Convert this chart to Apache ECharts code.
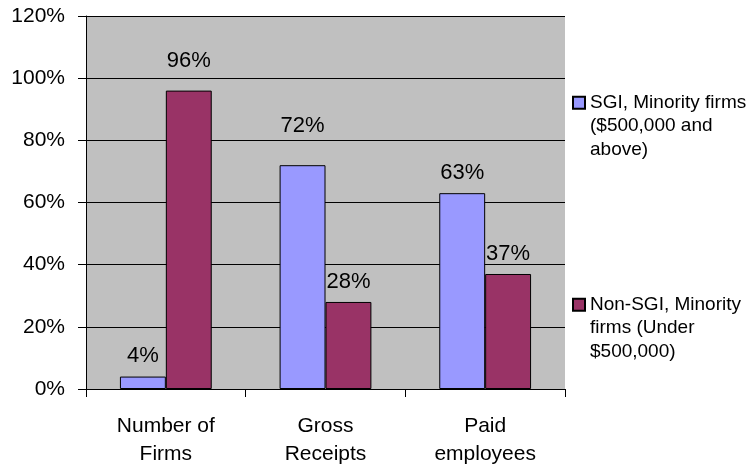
<!DOCTYPE html>
<html>
<head>
<meta charset="utf-8">
<script src="https://cdn.jsdelivr.net/npm/echarts@6/dist/echarts.min.js"></script>
<style>
  html, body { margin: 0; padding: 0; background: #fff; }
  #chart { width: 749px; height: 465px; }
</style>
</head>
<body>
<div id="chart"></div>
<script>
const categories = ['Number of\nFirms', 'Gross\nReceipts', 'Paid\nemployees'];
const seriesNames = ['SGI, Minority firms\n($500,000 and\nabove)', 'Non-SGI, Minority\nfirms (Under\n$500,000)'];
const sgiValues = [4, 72, 63];
const nonSgiValues = [96, 28, 37];
const yTicks = { min: 0, max: 120, interval: 20 };

// label lift above each bar (style only)
const sgiLabelLift = [9.5, 28.5, 9.5];
const nonSgiLabelLift = [18.5, 9.5, 9.5];

const FONT = "'Liberation Sans', Arial, sans-serif";

function buildData(values, lifts) {
  return values.map((v, i) => ({ value: v, label: { distance: lifts[i] } }));
}

const chart = echarts.init(document.getElementById('chart'), null, { renderer: 'canvas' });

const legendCommon = {
  orient: 'vertical',
  left: 572,
  padding: 0,
  itemWidth: 12,
  itemHeight: 12,
  itemGap: 4,
  icon: 'rect',
  selectedMode: false,
  textStyle: { fontFamily: FONT, fontSize: 19, color: '#000', lineHeight: 23.5 },
  formatter: function (name) { return '\n\n' + name; }
};

chart.setOption({
  animation: false,
  backgroundColor: '#fff',
  grid: {
    left: 86, top: 16, right: 184, bottom: 76,
    containLabel: false, outerBoundsMode: 'none',
    show: true, backgroundColor: '#C0C0C0', borderWidth: 0
  },
  legend: [
    Object.assign({}, legendCommon, { top: 44, data: [seriesNames[0]] }),
    Object.assign({}, legendCommon, { top: 246, data: [seriesNames[1]] })
  ],
  xAxis: {
    type: 'category',
    data: categories,
    axisLine: { show: true, lineStyle: { color: '#000', width: 1 } },
    axisTick: { show: true, length: 8, lineStyle: { color: '#000' } },
    axisLabel: { color: '#000', fontFamily: FONT, fontSize: 21, lineHeight: 28, margin: 23, interval: 0 },
    splitLine: { show: false }
  },
  yAxis: {
    type: 'value',
    min: yTicks.min,
    max: yTicks.max,
    interval: yTicks.interval,
    axisLine: { show: true, lineStyle: { color: '#000', width: 1 } },
    axisTick: { show: true, length: 8, lineStyle: { color: '#000' } },
    axisLabel: { color: '#000', fontFamily: FONT, fontSize: 21, margin: 21, formatter: '{value}%' },
    splitLine: { show: true, lineStyle: { color: '#000', width: 1 } }
  },
  series: [
    {
      name: seriesNames[0],
      type: 'bar',
      data: buildData(sgiValues, sgiLabelLift),
      barGap: '0%',
      barCategoryGap: '42.5%',
      itemStyle: { color: '#9999FF', borderColor: '#000', borderWidth: 1 },
      label: { show: true, position: 'top', formatter: '{c}%', color: '#000', fontFamily: FONT, fontSize: 22 }
    },
    {
      name: seriesNames[1],
      type: 'bar',
      data: buildData(nonSgiValues, nonSgiLabelLift),
      barGap: '0%',
      barCategoryGap: '42.5%',
      itemStyle: { color: '#993366', borderColor: '#000', borderWidth: 1 },
      label: { show: true, position: 'top', formatter: '{c}%', color: '#000', fontFamily: FONT, fontSize: 22 }
    }
  ]
});
</script>
</body>
</html>
